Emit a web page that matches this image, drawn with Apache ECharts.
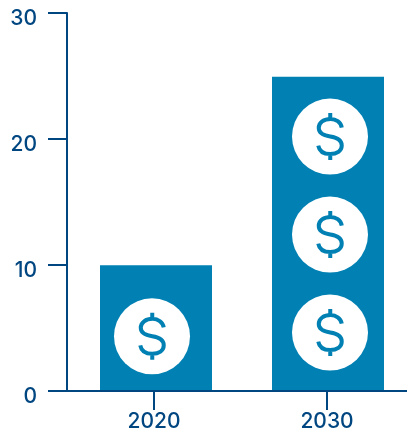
<!DOCTYPE html>
<html>
<head>
<meta charset="utf-8">
<style>
  html, body { margin: 0; padding: 0; background: #fff; }
  #chart { width: 407px; height: 430px; }
</style>
<script src="https://cdn.jsdelivr.net/npm/echarts@6/dist/echarts.min.js"></script>
</head>
<body>
<div id="chart"></div>
<script>
const years = ["2020", "2030"];
const values = [10, 25];
// one coin per icon: [category index, value at the coin's centre]
const coins = [[0, 4.35], [1, 4.65], [1, 12.45], [1, 20.25]];
const yTicks = { min: 0, max: 30, interval: 10 };

const NAVY = "#004680";
const BLUE = "#0080b3";
const FONT = "Inter, 'Open Sans', sans-serif";

// dollar sign outline, 25x47 box
const DOLLAR =
  "M24,14.5 C23,9 18,6 13,6 C6,6 1,9.5 1,15 C1,20.5 6,22.5 12.5,23.5 " +
  "C19,24.5 24,27 24,32.5 C24,38 19,41 12.5,41 C6,41 1.5,38 0.5,32.5 " +
  "M12.5,0 L12.5,6 M12.5,41 L12.5,47";
// coins sit a little off the bar centre in the original
const COIN_SHIFT = [-4, 2];

const chart = echarts.init(document.getElementById("chart"));

chart.setOption({
  animation: false,
  grid: [
    // axis runs off the right edge of the page, so no bounds fitting
    { left: 67, top: 13, width: 346, height: 378, outerBoundsMode: "none" },
    { left: 70, top: 14, width: 344, height: 377, outerBoundsMode: "none" },
  ],
  xAxis: [
    {
      type: "category",
      gridIndex: 0,
      data: years,
      z: 10,
      axisLine: { lineStyle: { color: NAVY, width: 2 } },
      axisTick: {
        show: true,
        alignWithLabel: true,
        length: 19,
        lineStyle: { color: NAVY, width: 2 },
      },
      axisLabel: {
        color: NAVY,
        fontFamily: FONT,
        fontSize: 21,
        fontWeight: 500,
        margin: 20,
        padding: [0, 0, 0, 1],
      },
    },
    {
      type: "category",
      gridIndex: 1,
      data: years,
      show: false,
    },
  ],
  yAxis: [
    {
      type: "value",
      gridIndex: 0,
      ...yTicks,
      z: 10,
      splitLine: { show: false },
      axisLine: { show: true, lineStyle: { color: NAVY, width: 2 } },
      axisTick: {
        show: true,
        length: 19,
        lineStyle: { color: NAVY, width: 2 },
      },
      axisLabel: {
        color: NAVY,
        fontFamily: FONT,
        fontSize: 21,
        fontWeight: 500,
        margin: 30,
        // labels sit a bit below their ticks in the original
        verticalAlign: "top",
        lineHeight: 12,
      },
    },
    {
      type: "value",
      gridIndex: 1,
      ...yTicks,
      show: false,
    },
  ],
  series: [
    {
      type: "bar",
      xAxisIndex: 1,
      yAxisIndex: 1,
      data: values,
      barWidth: 112,
      itemStyle: { color: BLUE },
    },
    {
      type: "custom",
      xAxisIndex: 1,
      yAxisIndex: 1,
      data: coins,
      z: 3,
      renderItem: (params, api) => {
        const idx = api.value(0);
        const pt = api.coord([idx, api.value(1)]);
        const cx = pt[0] + COIN_SHIFT[idx];
        const cy = pt[1];
        return {
          type: "group",
          children: [
            {
              type: "circle",
              shape: { cx, cy, r: 38 },
              style: { fill: "#fff" },
            },
            {
              type: "path",
              shape: {
                pathData: DOLLAR,
                x: cx - 12.5,
                y: cy - 23.5,
                width: 25,
                height: 47,
              },
              style: { fill: "none", stroke: BLUE, lineWidth: 4 },
            },
          ],
        };
      },
    },
  ],
});
</script>
</body>
</html>
